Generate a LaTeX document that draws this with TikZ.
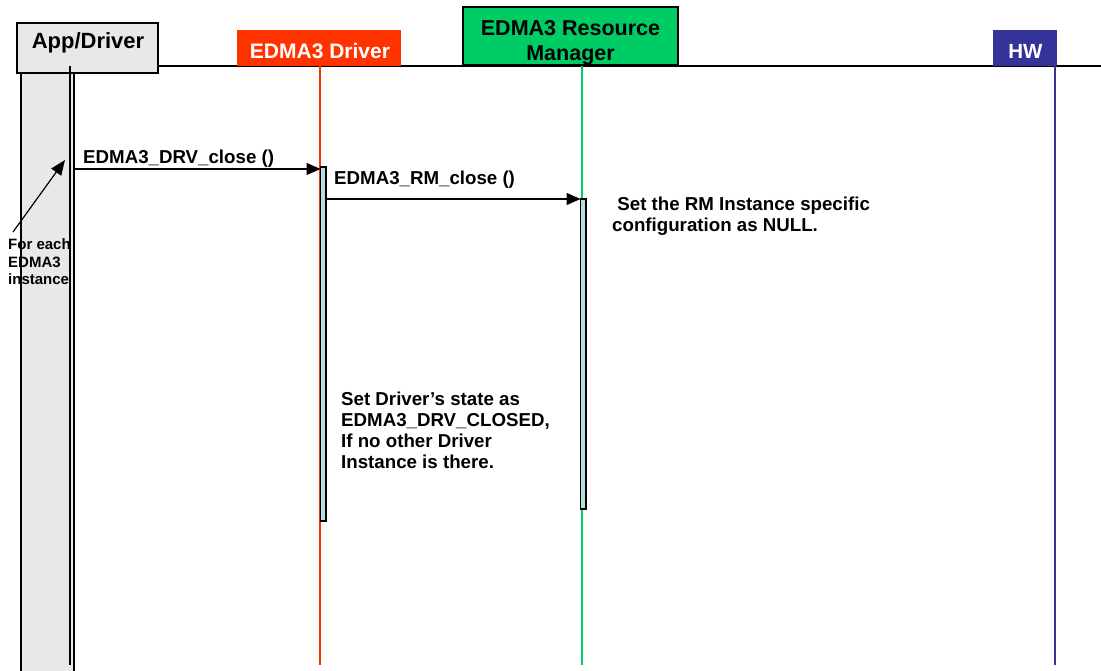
\documentclass[tikz,border=0pt]{standalone}
\usepackage{fontspec}
\setmainfont{Liberation Sans}
\usetikzlibrary{arrows.meta}
\definecolor{drvred}{HTML}{FF3300}
\definecolor{rmgreen}{HTML}{00CC66}
\definecolor{hwblue}{HTML}{333399}
\definecolor{colgray}{HTML}{E8E8E8}
\definecolor{barblue}{HTML}{B4DCDC}
\begin{document}
\begin{tikzpicture}[x=1pt,y=-1pt,
  hdr/.style={font=\fontsize{21}{25}\selectfont\bfseries, inner sep=0pt, align=center, anchor=base},
  lbl/.style={font=\fontsize{18.7}{21}\selectfont\bfseries, inner sep=0pt, anchor=base west, align=left},
  msg/.style={-{Triangle[length=14pt,width=12pt]}, line width=1.2pt},
  actbar/.style={draw=black, line width=1.2pt, fill=barblue}]
\useasboundingbox (0,0) rectangle (1101,671);
% top line
\draw[line width=1.4pt] (158,66) -- (1101,66);
% App/Driver column
\draw[line width=1.4pt, fill=colgray] (21,73) -- (21,672) -- (74,672) -- (74,73);
\draw[line width=1.4pt, fill=colgray] (17,23) rectangle (158,73);
\node[hdr, font=\fontsize{22}{25}\selectfont\bfseries] (app) at (88,49) {App/Driver};
\draw[line width=1.1pt] (70,66) -- (70,665);
% headers
\fill[drvred] (237,30) rectangle (401,66);
\node[hdr, text=white] (drv) at (320,58.3) {EDMA3 Driver};
\draw[line width=1.4pt, fill=rmgreen] (463,7) rectangle (678,65);
\node[hdr, font=\fontsize{21.5}{25}\selectfont\bfseries] (rm1) at (570.5,36) {EDMA3 Resource};
\node[hdr, font=\fontsize{21.5}{25}\selectfont\bfseries] (rm2) at (570.5,61) {Manager};
\fill[hwblue] (993,30) rectangle (1057,66);
\node[hdr, text=white, font=\fontsize{20.5}{25}\selectfont\bfseries] (hw) at (1025.5,58.3) {HW};
% lifelines
\draw[drvred, line width=1.3pt] (320,66) -- (320,665);
\draw[rmgreen, line width=1.3pt] (582,66) -- (582,665);
\draw[hwblue, line width=1.3pt] (1055,66) -- (1055,665);
% activation bars
\draw[actbar] (320.5,167) rectangle (326,521);
\draw[actbar] (580.5,199) rectangle (586,509);
% messages
\coordinate (m1s) at (73,169);
\coordinate (m1e) at (320.5,169);
\draw[msg] (m1s) -- (m1e);
\node[lbl] (m1l) at (83,163.5) {EDMA3\_DRV\_close ()};
\coordinate (m2s) at (326,199);
\coordinate (m2e) at (580.5,199);
\draw[msg] (m2s) -- (m2e);
\node[lbl] (m2l) at (334,184.5) {EDMA3\_RM\_close ()};
% notes
\node[lbl, anchor=north west] (n1) at (612,196.5) {\ Set the RM Instance specific\\configuration as NULL.};
\node[lbl, anchor=north west] (n2) at (341,392) {Set Driver’s state as\\EDMA3\_DRV\_CLOSED,\\If no other Driver\\Instance is there.};
% for each
\node[font=\fontsize{15}{17.5}\selectfont\bfseries, inner sep=0pt, anchor=north west, align=left] (fe) at (8,238.5) {For each\\EDMA3\\instance};
\coordinate (fes) at (13,232);
\coordinate (fee) at (65,160);
\draw[-{Triangle[length=15pt,width=12pt]}, line width=1.2pt] (fes) -- (fee);
\end{tikzpicture}
\end{document}
